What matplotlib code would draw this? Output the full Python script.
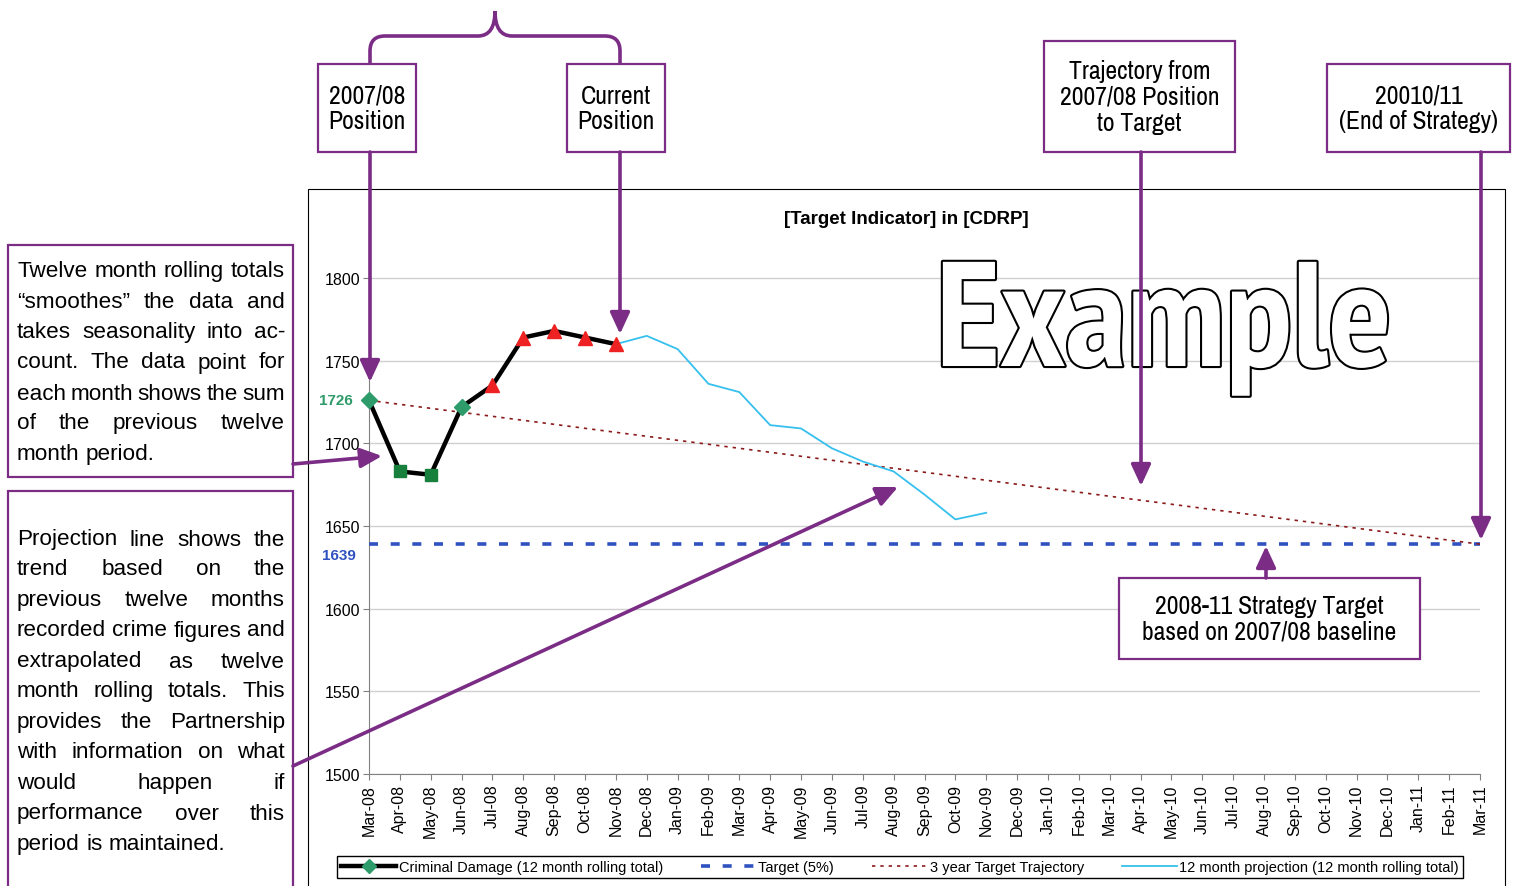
import matplotlib
matplotlib.use("Agg")
import matplotlib.pyplot as plt
from matplotlib import font_manager
import matplotlib.patheffects as pe
from matplotlib.patches import Rectangle, PathPatch, FancyArrowPatch
from matplotlib.path import Path
from matplotlib.lines import Line2D

# ------------------------------------------------------------------
# Data
# ------------------------------------------------------------------
months = ['Mar-08', 'Apr-08', 'May-08', 'Jun-08', 'Jul-08', 'Aug-08', 'Sep-08',
          'Oct-08', 'Nov-08', 'Dec-08', 'Jan-09', 'Feb-09', 'Mar-09', 'Apr-09',
          'May-09', 'Jun-09', 'Jul-09', 'Aug-09', 'Sep-09', 'Oct-09', 'Nov-09',
          'Dec-09', 'Jan-10', 'Feb-10', 'Mar-10', 'Apr-10', 'May-10', 'Jun-10',
          'Jul-10', 'Aug-10', 'Sep-10', 'Oct-10', 'Nov-10', 'Dec-10', 'Jan-11',
          'Feb-11', 'Mar-11']

# Criminal Damage, 12 month rolling total (Mar-08 .. Nov-08)
actual = [1726, 1683, 1681, 1722, 1735, 1764, 1768, 1764, 1760]
actual_markers = ['D', 's', 's', 'D', '^', '^', '^', '^', '^']

# 12 month projection (Nov-08 .. Nov-09)
projection = [1760, 1765, 1757, 1736, 1731, 1711, 1709, 1697, 1689, 1683,
              1669, 1654, 1658]
projection_start = 8   # index of Nov-08

target = 1639
baseline = actual[0]

# ------------------------------------------------------------------
# Styling helpers
# ------------------------------------------------------------------
W, H = 1514, 887
PURPLE = '#7B2D86'
GREEN = '#2E9B6A'
DKGREEN = '#17803D'
RED = '#EE2222'
BLUE = '#3052C0'
DKRED = '#8B1A1A'
CYAN = '#36C0EE'

faces = font_manager.fontManager.ttflist
names = {f.name for f in faces}
bold_names = {f.name for f in faces
              if isinstance(f.weight, int) and f.weight >= 700 and f.style == 'normal'}


def pick(options, pool):
    for o in options:
        if o in pool:
            return o
    return 'Liberation Sans'


narrow_opts = ['Arial Narrow', 'Liberation Sans Narrow', 'Archivo Narrow',
               'PT Sans Narrow', 'Roboto Condensed', 'IBM Plex Sans Condensed',
               'Open Sans Condensed', 'Oswald']
NARROW = pick(narrow_opts, names)
BIG = pick(narrow_opts, bold_names)
plt.rcParams['font.family'] = ['Liberation Sans', 'DejaVu Sans']


def fx(x):
    return x / W


def fy(y):
    return 1 - y / H


fig = plt.figure(figsize=(W / 100, H / 100), dpi=100)
fig.patch.set_facecolor('white')
renderer = fig.canvas.get_renderer()

# outer chart border
fig.add_artist(Rectangle((fx(308), fy(900)), (1505 - 308) / W, (900 - 190) / H,
                         transform=fig.transFigure, fill=False, ec='black', lw=0.8, zorder=0))

# ------------------------------------------------------------------
# The chart
# ------------------------------------------------------------------
ymin, ymax = 1500, 1830
ax = fig.add_axes([fx(369), fy(775), (1480 - 369) / W, (775 - 229.4) / H])
ax.patch.set_alpha(0)
x_all = list(range(len(months)))

ax.set_xlim(0, len(months) - 1)
ax.set_ylim(ymin, ymax)
ax.set_yticks([1500, 1550, 1600, 1650, 1700, 1750, 1800])
ax.set_xticks(x_all)
ax.set_xticklabels(months, rotation=90, fontsize=11.5)
ax.tick_params(axis='y', labelsize=11.5, length=4, pad=2, color='#808080')
ax.tick_params(axis='x', length=4.5, pad=2.5, color='#808080')
ax.grid(axis='y', color='#D0D0D0', lw=1)
ax.set_axisbelow(True)
for s in ['top', 'right']:
    ax.spines[s].set_visible(False)
for s in ['left', 'bottom']:
    ax.spines[s].set_color('#808080')

ax.plot([0, len(months) - 1], [target, target], color=BLUE, lw=2.6,
        dashes=(2.5, 3.5), zorder=3)
ax.plot([0, len(months) - 1], [baseline, target], color=DKRED, lw=1.2,
        dashes=(2, 3), zorder=3)
ax.plot(range(projection_start, projection_start + len(projection)), projection,
        color=CYAN, lw=1.3, zorder=4)
ax.plot(range(len(actual)), actual, color='black', lw=3.2, zorder=5, clip_on=False)
for i, (v, m) in enumerate(zip(actual, actual_markers)):
    c = {'D': GREEN, 's': DKGREEN, '^': RED}[m]
    ms = {'D': 8, 's': 8, '^': 9.5}[m]
    ax.plot([i], [v], marker=m, color=c, ms=ms, mec=c, zorder=6, clip_on=False)

ax.annotate(str(baseline), xy=(0, baseline), xytext=(-12, 0), textcoords='offset points',
            ha='right', va='center', color=GREEN, fontsize=11, fontweight='bold',
            annotation_clip=False)
ax.annotate(str(target), xy=(0, target), xytext=(-9.5, -8), textcoords='offset points',
            ha='right', va='center', color=BLUE, fontsize=11, fontweight='bold',
            annotation_clip=False)

fig.text(fx(906), fy(220), '[Target Indicator] in [CDRP]', ha='center', va='center',
         fontsize=13.5, fontweight='bold')

handles = [
    Line2D([], [], color='black', lw=3.2, marker='D', mfc=GREEN, mec=GREEN, ms=7),
    Line2D([], [], color=BLUE, lw=2.6, dashes=(2.5, 3.5)),
    Line2D([], [], color=DKRED, lw=1.2, dashes=(2, 3)),
    Line2D([], [], color=CYAN, lw=1.3),
]
labels = ['Criminal Damage (12 month rolling total)', 'Target (5%)',
          '3 year Target Trajectory', '12 month projection (12 month rolling total)']
leg = ax.legend(handles, labels, ncol=4, loc='center',
                bbox_to_anchor=(fx(900), fy(868)), bbox_transform=fig.transFigure,
                frameon=True, fancybox=False, edgecolor='black', framealpha=1,
                fontsize=10.5, handlelength=3.8, columnspacing=2.6,
                borderpad=0.3, handletextpad=0.15)
leg.get_frame().set_linewidth(1)

# ------------------------------------------------------------------
# "Example" outlined watermark (real text, white fill with black outline)
# ------------------------------------------------------------------
ex = fig.text(fx(1164), fy(367), 'Example', ha='center', va='baseline',
              family=BIG, fontweight='bold', fontsize=100, color='white', zorder=2,
              path_effects=[pe.withStroke(linewidth=3, foreground='black')])
ex_w = ex.get_window_extent(renderer).width
ex.set_fontsize(100 * (1392 - 936) / ex_w)

# ------------------------------------------------------------------
# Callout boxes
# ------------------------------------------------------------------
def box(x0, y0, x1, y1):
    fig.add_artist(Rectangle((fx(x0), fy(y1)), (x1 - x0) / W, (y1 - y0) / H,
                             transform=fig.transFigure, fc='white', ec=PURPLE,
                             lw=1.6, zorder=2))


def arrow(x0, y0, x1, y1):
    fig.add_artist(FancyArrowPatch((fx(x0), fy(y0)), (fx(x1), fy(y1)),
                                   transform=fig.transFigure,
                                   arrowstyle='-|>,head_length=0.65,head_width=0.3',
                                   mutation_scale=20, color=PURPLE, lw=2.6,
                                   shrinkA=0, shrinkB=0, zorder=4))


callouts = [
    ((318, 65, 416, 153), '2007/08\nPosition'),
    ((567, 65, 665, 153), 'Current\nPosition'),
    ((1044, 42, 1235, 153), 'Trajectory from\n2007/08 Position\nto Target'),
    ((1327, 65, 1510, 153), '20010/11\n(End of Strategy)'),
    ((1119, 579, 1420, 660), '2008-11 Strategy Target\nbased on 2007/08 baseline'),
]
for (x0, y0, x1, y1), txt in callouts:
    box(x0, y0, x1, y1)
    t = fig.text(fx((x0 + x1) / 2), fy((y0 + y1) / 2), txt, ha='center', va='center',
                 fontsize=18.5, family=NARROW, linespacing=1.15, zorder=3)
    # keep the text inside its box if the condensed face is wider than expected
    tw = t.get_window_extent(renderer).width
    if tw > (x1 - x0) - 8:
        t.set_fontsize(18.5 * ((x1 - x0) - 8) / tw)

arrow(370, 153, 370, 383)
arrow(620, 153, 620, 335)
arrow(1141, 153, 1141, 487)
arrow(1481, 153, 1481, 541)
arrow(1266, 579, 1266, 547)
arrow(293, 465, 382, 457)
arrow(293, 767, 898, 488)

# curly brace over the two position boxes
brace = [(370, 65), (370, 52), (370, 37), (385, 37), (478, 37), (495, 37), (495, 12),
         (495, 37), (512, 37), (605, 37), (620, 37), (620, 52), (620, 65)]
codes = [Path.MOVETO, Path.LINETO, Path.CURVE3, Path.CURVE3, Path.LINETO,
         Path.CURVE3, Path.CURVE3, Path.CURVE3, Path.CURVE3, Path.LINETO,
         Path.CURVE3, Path.CURVE3, Path.LINETO]
bpath = Path([(fx(x), fy(y)) for x, y in brace], codes)
fig.add_artist(PathPatch(bpath, transform=fig.transFigure, fill=False,
                         ec=PURPLE, lw=2.6, zorder=4))

# ------------------------------------------------------------------
# Left-hand explanation boxes (justified text)
# ------------------------------------------------------------------
box(8, 246, 293, 478)
box(8, 492, 293, 900)

text_a = ['Twelve month rolling totals', '\u201csmoothes\u201d the data and',
          'takes seasonality into ac-', 'count.  The data point for',
          'each month shows the sum', 'of the previous twelve', 'month period.']
text_b = ['Projection line shows the', 'trend based on the', 'previous twelve months',
          'recorded crime figures and', 'extrapolated as twelve',
          'month rolling totals. This', 'provides the Partnership',
          'with information on what', 'would happen if', 'performance over this',
          'period is maintained.']
ys_a = [272, 302, 333, 363, 394, 424, 455]
ys_b = [540, 570, 601, 631, 662, 692, 723, 753, 784, 814, 845]


def justify(lines, ys, x0=17, x1=285, size=16.2):
    for k, (line, y) in enumerate(zip(lines, ys)):
        words = line.split()
        texts = [fig.text(0, fy(y), w, fontsize=size, ha='left', va='center', zorder=3)
                 for w in words]
        widths = [t.get_window_extent(renderer).width for t in texts]
        if k == len(lines) - 1 or len(words) == 1:
            gap = size * 100 / 72 * 0.278
        else:
            gap = (x1 - x0 - sum(widths)) / (len(words) - 1)
        x = x0
        for t, wd in zip(texts, widths):
            t.set_x(fx(x))
            x += wd + gap


justify(text_a, ys_a)
justify(text_b, ys_b)

fig.savefig('out.png', dpi=100)
